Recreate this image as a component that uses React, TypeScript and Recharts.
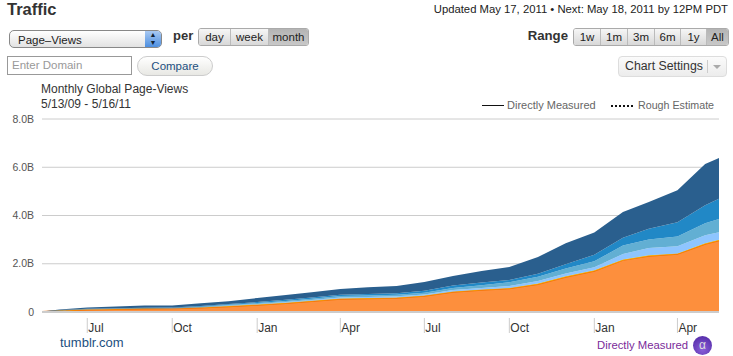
import React from 'react';
import { AreaChart, Area, XAxis, YAxis, CartesianGrid } from 'recharts';

// days since 5/13/09, points fall on the first of each month
const days = [0, 19, 49, 80, 111, 141, 172, 202, 233, 264, 292, 323, 353, 384, 414, 445, 476, 506, 537, 567, 598, 629, 657, 688, 718, 733];

// stacked bands, in billions of page views
const orange = [0.01, 0.05, 0.09, 0.11, 0.13, 0.14, 0.18, 0.23, 0.29, 0.36, 0.45, 0.54, 0.56, 0.58, 0.66, 0.83, 0.91, 0.97, 1.15, 1.45, 1.7, 2.15, 2.32, 2.4, 2.82, 2.96];
const yellow = [0, 0.01, 0.01, 0.01, 0.01, 0.01, 0.01, 0.02, 0.02, 0.02, 0.02, 0.02, 0.02, 0.02, 0.02, 0.02, 0.02, 0.03, 0.03, 0.03, 0.03, 0.03, 0.03, 0.03, 0.03, 0.03];
const paleBlue = [0, 0.005, 0.01, 0.01, 0.01, 0.01, 0.01, 0.02, 0.02, 0.03, 0.03, 0.04, 0.04, 0.05, 0.05, 0.06, 0.07, 0.08, 0.1, 0.12, 0.13, 0.22, 0.3, 0.3, 0.33, 0.32];
const skyBlue = [0, 0.01, 0.01, 0.01, 0.01, 0.01, 0.02, 0.03, 0.04, 0.05, 0.05, 0.06, 0.06, 0.06, 0.07, 0.09, 0.11, 0.15, 0.18, 0.2, 0.24, 0.36, 0.36, 0.4, 0.5, 0.55];
const midBlue = [0, 0.01, 0.01, 0.02, 0.02, 0.02, 0.03, 0.03, 0.04, 0.05, 0.05, 0.06, 0.07, 0.07, 0.08, 0.1, 0.11, 0.1, 0.13, 0.18, 0.27, 0.32, 0.44, 0.59, 0.74, 0.83];
const darkBlue = [0.01, 0.02, 0.06, 0.07, 0.09, 0.08, 0.11, 0.12, 0.17, 0.19, 0.22, 0.23, 0.28, 0.3, 0.36, 0.39, 0.48, 0.54, 0.69, 0.87, 0.93, 1.07, 1.11, 1.33, 1.71, 1.69];

const xTickDays = [49, 141, 233, 323, 414, 506, 598, 688];
const xTickLabels = ['Jul', 'Oct', 'Jan', 'Apr', 'Jul', 'Oct', 'Jan', 'Apr'];
const yTicks = [0, 2, 4, 6, 8];

const data = days.map((day, i) => ({
  day,
  orange: orange[i],
  yellow: yellow[i],
  paleBlue: paleBlue[i],
  skyBlue: skyBlue[i],
  midBlue: midBlue[i],
  darkBlue: darkBlue[i],
}));

const FONT = '"Liberation Sans", Arial, sans-serif';

const MonthTick = (props: any) => {
  const { x, y, payload } = props;
  const label = xTickLabels[xTickDays.indexOf(payload.value)];
  return (
    <g>
      <line x1={x} x2={x} y1={y} y2={y + 15} stroke="#ccc" />
      <text x={x + 1} y={y + 14} fontSize={12} fontFamily={FONT} fill="#333">{label}</text>
    </g>
  );
};

const Txt = ({ x, y, right, size = 12, color = '#333', bold, children }: any) => (
  <div
    style={{
      position: 'absolute',
      left: right === undefined ? x : undefined,
      right,
      top: y,
      fontSize: size,
      lineHeight: '16px',
      color,
      fontWeight: bold ? 'bold' : 'normal',
      whiteSpace: 'nowrap',
    }}
  >
    {children}
  </div>
);

const BTN_BG = 'linear-gradient(#f6f6f6, #d8d8d8)';
const BTN_ON = 'linear-gradient(#b4b4b4, #c8c8c8)';

const ButtonGroup = ({ x, y, items, widths, active }: any) => (
  <div style={{ position: 'absolute', left: x, top: y, display: 'flex', border: '1px solid #aaa', borderRadius: 3, overflow: 'hidden', height: 16 }}>
    {items.map((label: string, i: number) => (
      <div
        key={label}
        style={{
          width: widths[i],
          textAlign: 'center',
          fontSize: 11.5,
          lineHeight: '16px',
          color: '#222',
          background: label === active ? BTN_ON : BTN_BG,
          borderLeft: i ? '1px solid #bbb' : 'none',
          boxSizing: 'border-box',
        }}
      >
        {label}
      </div>
    ))}
  </div>
);

export default function App() {
  return (
    <div style={{ position: 'absolute', left: 0, top: 0, width: 733, height: 356, overflow: 'hidden', background: '#fff', fontFamily: FONT }}>
      <div style={{ position: 'absolute', left: 0, top: 0 }}>
        <AreaChart width={733} height={356} data={data} margin={{ top: 119, right: 14, bottom: 0, left: 0 }}>
          <CartesianGrid vertical={false} stroke="#ccc" strokeWidth={1} />
          <XAxis
            dataKey="day"
            type="number"
            domain={[0, 733]}
            ticks={xTickDays}
            tick={<MonthTick />}
            tickLine={false}
            axisLine={{ stroke: '#ccc', strokeWidth: 2 }}
            height={44}
            tickMargin={0}
            interval={0}
          />
          <YAxis
            type="number"
            domain={[0, 8]}
            ticks={yTicks}
            width={42}
            tickLine={false}
            axisLine={false}
            tickMargin={2}
            tick={{ fontSize: 10.5, fill: '#555', fontFamily: FONT }}
            tickFormatter={(v: number) => (v === 0 ? '0' : `${v.toFixed(1)}B`)}
          />
          <Area dataKey="orange" stackId="a" type="linear" fill="#fd8f3d" fillOpacity={1} stroke="#f57300" strokeWidth={1.5} isAnimationActive={false} />
          <Area dataKey="yellow" stackId="a" type="linear" fill="#f5c211" fillOpacity={1} stroke="none" isAnimationActive={false} />
          <Area dataKey="paleBlue" stackId="a" type="linear" fill="#8ec5ff" fillOpacity={1} stroke="none" isAnimationActive={false} />
          <Area dataKey="skyBlue" stackId="a" type="linear" fill="#62afd3" fillOpacity={1} stroke="none" isAnimationActive={false} />
          <Area dataKey="midBlue" stackId="a" type="linear" fill="#2188c6" fillOpacity={1} stroke="none" isAnimationActive={false} />
          <Area dataKey="darkBlue" stackId="a" type="linear" fill="#2a5f8e" fillOpacity={1} stroke="none" isAnimationActive={false} />
        </AreaChart>
      </div>

      {/* page header */}
      <Txt x={7} y={1} size={16.5} bold>Traffic</Txt>
      <Txt right={5} y={1} size={11.3} color="#222">Updated May 17, 2011 • Next: May 18, 2011 by 12PM PDT</Txt>

      {/* metric select */}
      <div style={{ position: 'absolute', left: 9, top: 30, width: 153, height: 18, boxSizing: 'border-box', border: '1px solid #888', borderRadius: 5, background: 'linear-gradient(#ffffff, #e2e2e2)', overflow: 'hidden' }}>
        <div style={{ position: 'absolute', left: 8, top: 1, fontSize: 11.5, lineHeight: '16px', color: '#222' }}>Page–Views</div>
        <div style={{ position: 'absolute', right: 0, top: 0, width: 16, height: 16, background: 'linear-gradient(#a9c9f2, #4d8fe0)', color: '#123', fontSize: 7, lineHeight: '8px', textAlign: 'center' }}>▲<br />▼</div>
      </div>
      <Txt x={173} y={28} size={13} bold>per</Txt>
      <ButtonGroup x={198} y={28} items={['day', 'week', 'month']} widths={[31, 38, 40]} active="month" />

      <Txt right={165} y={28} size={13.2} bold>Range</Txt>
      <ButtonGroup x={573} y={28} items={['1w', '1m', '3m', '6m', '1y', 'All']} widths={[26, 27, 27, 26, 26, 22]} active="All" />

      {/* domain compare */}
      <div style={{ position: 'absolute', left: 7, top: 56, width: 125, height: 19, boxSizing: 'border-box', border: '1px solid #999', paddingLeft: 4, fontSize: 11.5, lineHeight: '17px', color: '#999' }}>Enter Domain</div>
      <div style={{ position: 'absolute', left: 137, top: 56, width: 76, height: 20, boxSizing: 'border-box', border: '1px solid #ccc', borderRadius: 10, background: 'linear-gradient(#ffffff, #e8e8e4)', textAlign: 'center', fontSize: 11.5, lineHeight: '18px', color: '#1c4f80' }}>Compare</div>

      {/* chart settings */}
      <div style={{ position: 'absolute', left: 618, top: 56, width: 109, height: 21, boxSizing: 'border-box', border: '1px solid #ddd', borderRadius: 4, background: 'linear-gradient(#fbfbfb, #ececec)', fontSize: 12.3, lineHeight: '19px', color: '#333', paddingLeft: 6 }}>
        Chart Settings
        <div style={{ position: 'absolute', left: 88, top: 3, height: 13, borderLeft: '1px solid #ccc' }} />
        <div style={{ position: 'absolute', left: 94, top: 8, width: 0, height: 0, borderLeft: '4px solid transparent', borderRight: '4px solid transparent', borderTop: '4px solid #aaa' }} />
      </div>

      {/* chart title */}
      <Txt x={41} y={81} size={12}>Monthly Global Page-Views</Txt>
      <Txt x={41} y={96} size={12}>5/13/09 - 5/16/11</Txt>

      {/* line style key */}
      <div style={{ position: 'absolute', left: 482, top: 105, width: 22, borderTop: '1px solid #111' }} />
      <Txt x={507} y={97} size={11} color="#666">Directly Measured</Txt>
      <div style={{ position: 'absolute', left: 611, top: 105, width: 22, borderTop: '2px dotted #111' }} />
      <Txt x={638} y={97} size={10.7} color="#666">Rough Estimate</Txt>

      {/* footer */}
      <Txt x={60} y={335} size={13} color="#1c4f80">tumblr.com</Txt>
      <Txt x={597} y={337} size={11.3} color="#7a2a9a">Directly Measured</Txt>
      <div style={{ position: 'absolute', left: 693, top: 336, width: 19, height: 19, borderRadius: 10, background: 'radial-gradient(circle at 50% 70%, #8a5fd8, #4b23a0)', color: '#ddd', textAlign: 'center', fontSize: 12, lineHeight: '18px' }}>α</div>
    </div>
  );
}
